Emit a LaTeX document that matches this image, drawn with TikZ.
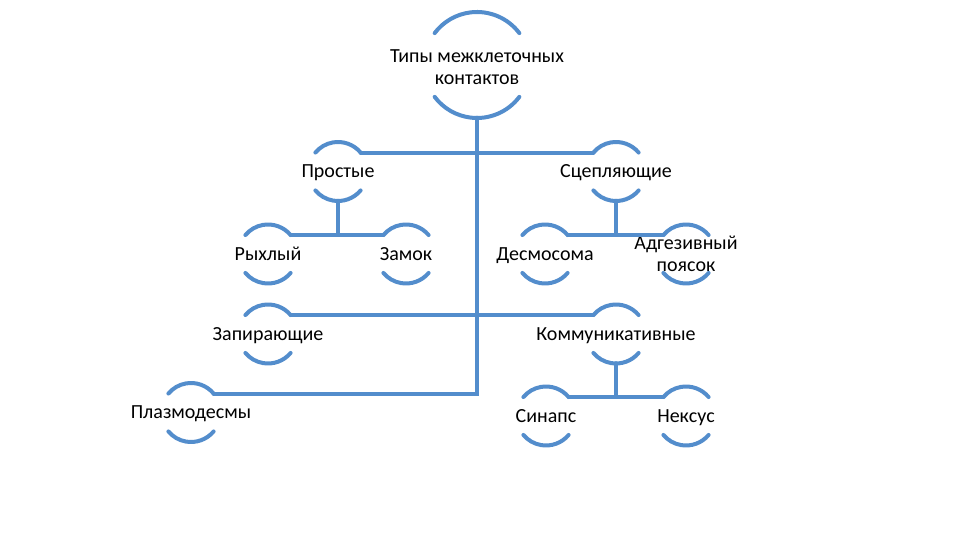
\documentclass[tikz,border=0pt]{standalone}
\usepackage{fontspec}
\setmainfont{Carlito}
\usepackage{xcolor}
\usepackage{tikz}
\definecolor{linkblue}{RGB}{83,141,204}
\newcommand{\cellarcs}[3]{%
  \draw[link] (#1.center) ++(#3:#2) arc[start angle=#3, end angle=180-#3, radius=#2];
  \draw[link] (#1.center) ++(-#3:#2) arc[start angle=-#3, end angle=#3-180, radius=#2];}

\begin{document}
\begin{tikzpicture}[
  x=1pt, y=1pt,
  font=\fontsize{20}{22}\selectfont,
  link/.style={draw=linkblue, line width=4pt, line cap=round},
  ring/.style={circle, inner sep=0pt, outer sep=0pt, minimum size=59pt},
  bigring/.style={ring, minimum size=106pt},
  every label/.style={align=center, inner sep=0pt, text height=15pt, text depth=2pt},
  twolines/.style={text height={}, text depth={}},
]
  \fill[white] (0,0) rectangle (960,540);
  \useasboundingbox (0,0) rectangle (960,540);
  % root
  \node[bigring, label={[twolines, yshift=-2pt]center:Типы межклеточных\\контактов}] (root) at (477, 475) {};
  % second level
  \node[ring, label={center:Простые}] (prost) at (338, 368.5) {};
  \node[ring, label={center:Сцепляющие}] (scep) at (616, 368.5) {};
  \node[ring, label={center:Запирающие}] (zap) at (268, 206) {};
  \node[ring, label={center:Коммуникативные}] (komm) at (616, 206) {};
  \node[ring, label={center:Плазмодесмы}] (plaz) at (191, 127.5) {};
  % third level
  \node[ring, label={center:Рыхлый}] (rykh) at (268, 286) {};
  \node[ring, label={center:Замок}] (zamok) at (406, 286) {};
  \node[ring, label={center:Десмосома}] (desm) at (545, 286) {};
  \node[ring, label={[twolines]center:Адгезивный\\поясок}] (adg) at (686, 286) {};
  \node[ring, label={center:Синапс}] (sinaps) at (546, 124) {};
  \node[ring, label={center:Нексус}] (neks) at (686, 124) {};
  % arcs round the labels
  \cellarcs{root}{53pt}{37}
  \foreach \n in {prost, scep, zap, komm, plaz, rykh, zamok, desm, adg, sinaps, neks}
    {\cellarcs{\n}{29.5pt}{40}}
  % connectors
  \draw[link] (root.south) |- (prost.40);
  \draw[link] (root.south) |- (scep.140);
  \draw[link] (root.south) |- (zap.40);
  \draw[link] (root.south) |- (komm.140);
  \draw[link] (root.south) |- (plaz.40);
  \draw[link] (prost.south) |- (rykh.40);
  \draw[link] (prost.south) |- (zamok.140);
  \draw[link] (scep.south) |- (desm.40);
  \draw[link] (scep.south) |- (adg.140);
  \draw[link] (komm.south) |- (sinaps.40);
  \draw[link] (komm.south) |- (neks.140);
\end{tikzpicture}
\end{document}
